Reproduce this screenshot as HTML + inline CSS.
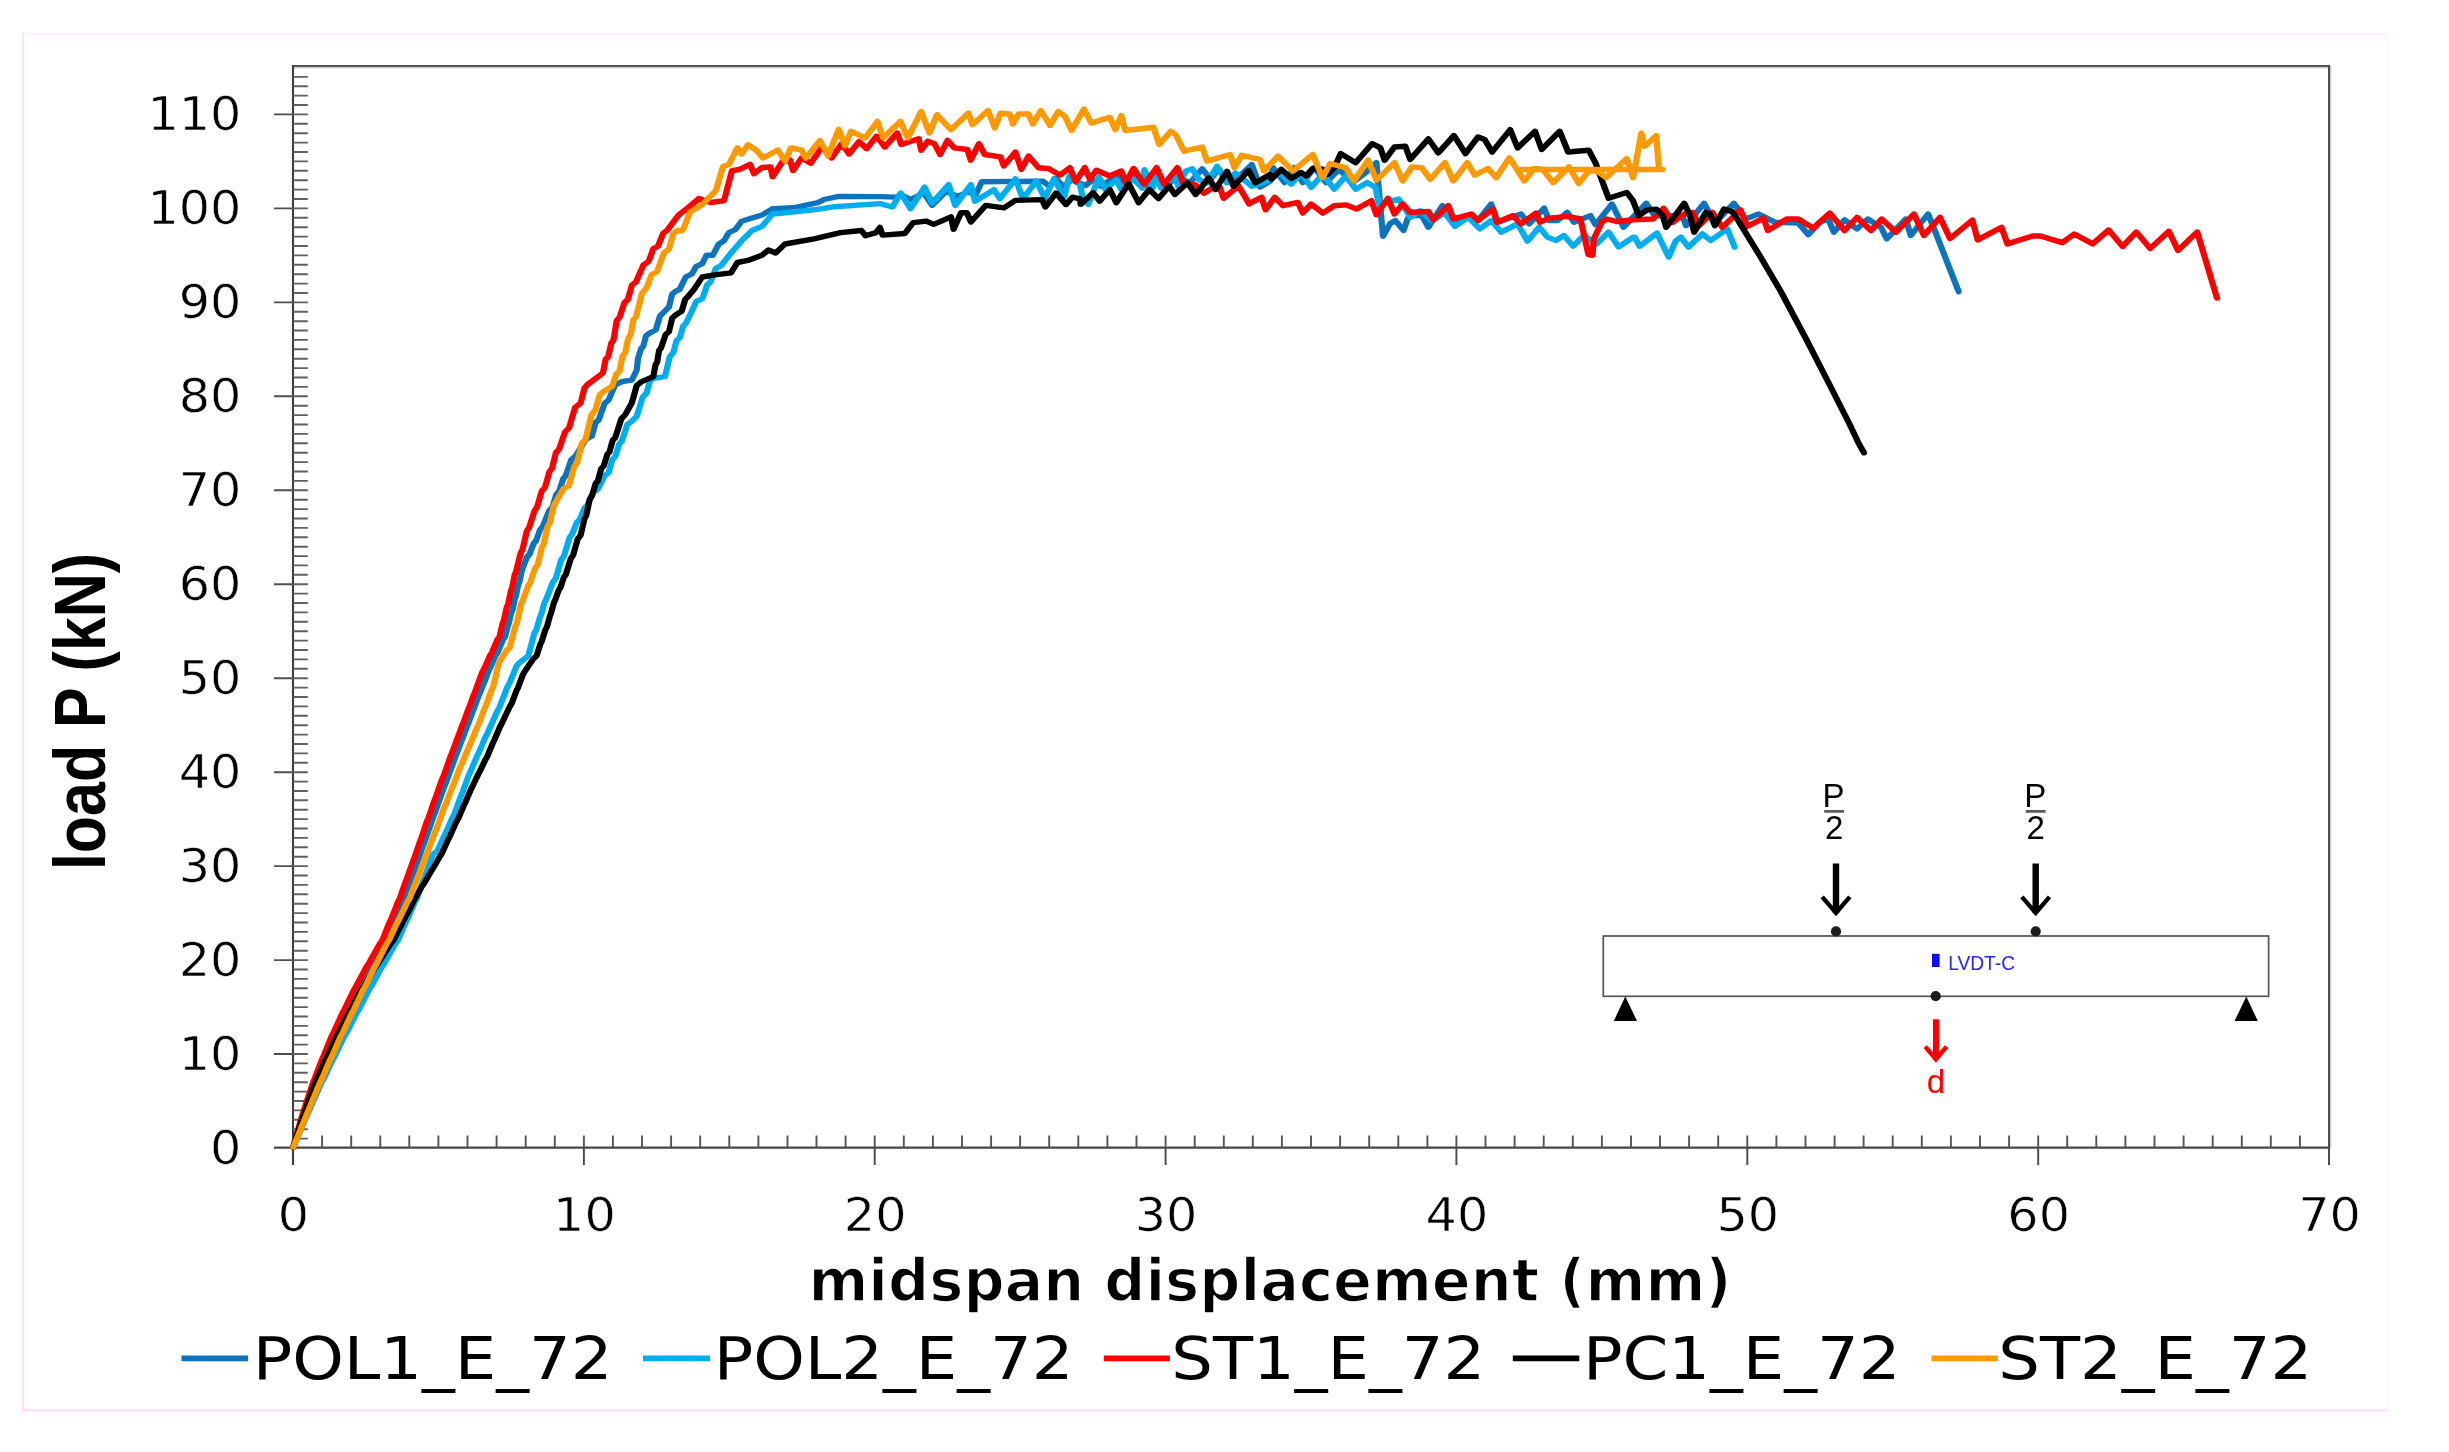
<!DOCTYPE html>
<html lang="en"><head><meta charset="utf-8"><title>load P vs midspan displacement</title>
<style>
html,body{margin:0;padding:0;background:#fff;}
body{width:2449px;height:1452px;overflow:hidden;}
svg{display:block;}
text{font-family:"DejaVu Sans","Liberation Sans",sans-serif;fill:#000;}
.b{font-family:"DejaVu Sans","Liberation Sans",sans-serif;font-weight:bold;}
.lb{font-family:"Liberation Sans","DejaVu Sans",sans-serif;font-weight:bold;}
.ar{font-family:"Liberation Sans","DejaVu Sans",sans-serif;}
.c{fill:none;stroke-linejoin:round;stroke-linecap:round;}
</style></head><body>
<svg width="2449" height="1452" viewBox="0 0 2449 1452">
<defs>
<clipPath id="plotclip"><rect x="286" y="60" width="2050" height="1089.8"/></clipPath>
<filter id="soft" filterUnits="userSpaceOnUse" x="0" y="0" width="2449" height="1452"><feGaussianBlur stdDeviation="0.5"/></filter>
</defs>
<rect x="0" y="0" width="2449" height="1452" fill="#fff"/>
<g id="figure" filter="url(#soft)">
<g id="pageborder">
<rect x="25.5" y="33" width="2363" height="2" fill="#FFEEFF"/>
<rect x="22" y="33" width="2.1" height="1378.2" fill="#FFDDFF"/>
<rect x="22" y="1409.3" width="2366.3" height="1.9" fill="#FFDDFF"/>
<rect x="2386.4" y="35" width="1.9" height="1375" fill="#FFF8FF"/>
</g>

<g id="axes" stroke="#454545" fill="none">
<path d="M293.0 67.8H2328.02M2330.72 66V1147.6" stroke="#d2d2d2" stroke-width="1.5"/>
<path d="M292.0 66H2330.02" stroke="#555" stroke-width="2"/>
<path d="M2329.02 65V1165.1" stroke="#4c4c4c" stroke-width="2"/>
<path d="M293.0 65V1165.1" stroke="#3c3c3c" stroke-width="2.1"/>
<path d="M274.0 1147.6H2329.02" stroke="#484848" stroke-width="2.3"/>
<path d="M274.0 1054.0H293.0M274.0 960.1H293.0M274.0 866.1H293.0M274.0 772.2H293.0M274.0 678.2H293.0M274.0 584.2H293.0M274.0 490.3H293.0M274.0 396.3H293.0M274.0 302.4H293.0M274.0 208.4H293.0M274.0 114.4H293.0" stroke-width="1.9" stroke="#505050"/>
<path d="M293.0 1138.6h14.8M293.0 1129.2h14.8M293.0 1119.8h14.8M293.0 1110.4h14.8M293.0 1101.0h14.8M293.0 1091.6h14.8M293.0 1082.2h14.8M293.0 1072.8h14.8M293.0 1063.4h14.8M293.0 1054.0h14.8M293.0 1044.6h14.8M293.0 1035.2h14.8M293.0 1025.9h14.8M293.0 1016.5h14.8M293.0 1007.1h14.8M293.0 997.7h14.8M293.0 988.3h14.8M293.0 978.9h14.8M293.0 969.5h14.8M293.0 960.1h14.8M293.0 950.7h14.8M293.0 941.3h14.8M293.0 931.9h14.8M293.0 922.5h14.8M293.0 913.1h14.8M293.0 903.7h14.8M293.0 894.3h14.8M293.0 884.9h14.8M293.0 875.5h14.8M293.0 866.1h14.8M293.0 856.7h14.8M293.0 847.3h14.8M293.0 837.9h14.8M293.0 828.5h14.8M293.0 819.1h14.8M293.0 809.7h14.8M293.0 800.3h14.8M293.0 791.0h14.8M293.0 781.6h14.8M293.0 772.2h14.8M293.0 762.8h14.8M293.0 753.4h14.8M293.0 744.0h14.8M293.0 734.6h14.8M293.0 725.2h14.8M293.0 715.8h14.8M293.0 706.4h14.8M293.0 697.0h14.8M293.0 687.6h14.8M293.0 678.2h14.8M293.0 668.8h14.8M293.0 659.4h14.8M293.0 650.0h14.8M293.0 640.6h14.8M293.0 631.2h14.8M293.0 621.8h14.8M293.0 612.4h14.8M293.0 603.0h14.8M293.0 593.6h14.8M293.0 584.2h14.8M293.0 574.8h14.8M293.0 565.4h14.8M293.0 556.1h14.8M293.0 546.7h14.8M293.0 537.3h14.8M293.0 527.9h14.8M293.0 518.5h14.8M293.0 509.1h14.8M293.0 499.7h14.8M293.0 490.3h14.8M293.0 480.9h14.8M293.0 471.5h14.8M293.0 462.1h14.8M293.0 452.7h14.8M293.0 443.3h14.8M293.0 433.9h14.8M293.0 424.5h14.8M293.0 415.1h14.8M293.0 405.7h14.8M293.0 396.3h14.8M293.0 386.9h14.8M293.0 377.5h14.8M293.0 368.1h14.8M293.0 358.7h14.8M293.0 349.3h14.8M293.0 339.9h14.8M293.0 330.5h14.8M293.0 321.2h14.8M293.0 311.8h14.8M293.0 302.4h14.8M293.0 293.0h14.8M293.0 283.6h14.8M293.0 274.2h14.8M293.0 264.8h14.8M293.0 255.4h14.8M293.0 246.0h14.8M293.0 236.6h14.8M293.0 227.2h14.8M293.0 217.8h14.8M293.0 208.4h14.8M293.0 199.0h14.8M293.0 189.6h14.8M293.0 180.2h14.8M293.0 170.8h14.8M293.0 161.4h14.8M293.0 152.0h14.8M293.0 142.6h14.8M293.0 133.2h14.8M293.0 123.8h14.8M293.0 114.4h14.8M293.0 105.0h14.8M293.0 95.6h14.8M293.0 86.3h14.8M293.0 76.9h14.8" stroke-width="1.9" stroke="#606060"/>
<path d="M583.9 1147.6v17.5M874.7 1147.6v17.5M1165.6 1147.6v17.5M1456.4 1147.6v17.5M1747.3 1147.6v17.5M2038.2 1147.6v17.5" stroke-width="1.9" stroke="#484848"/>
<path d="M322.1 1147.6v-12M351.2 1147.6v-12M380.3 1147.6v-12M409.3 1147.6v-12M438.4 1147.6v-12M467.5 1147.6v-12M496.6 1147.6v-12M525.7 1147.6v-12M554.8 1147.6v-12M583.9 1147.6v-12M612.9 1147.6v-12M642.0 1147.6v-12M671.1 1147.6v-12M700.2 1147.6v-12M729.3 1147.6v-12M758.4 1147.6v-12M787.5 1147.6v-12M816.5 1147.6v-12M845.6 1147.6v-12M874.7 1147.6v-12M903.8 1147.6v-12M932.9 1147.6v-12M962.0 1147.6v-12M991.1 1147.6v-12M1020.1 1147.6v-12M1049.2 1147.6v-12M1078.3 1147.6v-12M1107.4 1147.6v-12M1136.5 1147.6v-12M1165.6 1147.6v-12M1194.7 1147.6v-12M1223.8 1147.6v-12M1252.8 1147.6v-12M1281.9 1147.6v-12M1311.0 1147.6v-12M1340.1 1147.6v-12M1369.2 1147.6v-12M1398.3 1147.6v-12M1427.4 1147.6v-12M1456.4 1147.6v-12M1485.5 1147.6v-12M1514.6 1147.6v-12M1543.7 1147.6v-12M1572.8 1147.6v-12M1601.9 1147.6v-12M1631.0 1147.6v-12M1660.0 1147.6v-12M1689.1 1147.6v-12M1718.2 1147.6v-12M1747.3 1147.6v-12M1776.4 1147.6v-12M1805.5 1147.6v-12M1834.6 1147.6v-12M1863.6 1147.6v-12M1892.7 1147.6v-12M1921.8 1147.6v-12M1950.9 1147.6v-12M1980.0 1147.6v-12M2009.1 1147.6v-12M2038.2 1147.6v-12M2067.2 1147.6v-12M2096.3 1147.6v-12M2125.4 1147.6v-12M2154.5 1147.6v-12M2183.6 1147.6v-12M2212.7 1147.6v-12M2241.8 1147.6v-12M2270.8 1147.6v-12M2299.9 1147.6v-12" stroke-width="1.9" stroke="#555"/>
</g>
<g id="ticklabels" font-size="45.4" stroke="#fff" stroke-width="0.55">
<text transform="translate(241.4 1163.9) scale(1.085 1)" text-anchor="end">0</text>
<text transform="translate(241.4 1069.9) scale(1.085 1)" text-anchor="end">10</text>
<text transform="translate(241.4 976.0) scale(1.085 1)" text-anchor="end">20</text>
<text transform="translate(241.4 882.0) scale(1.085 1)" text-anchor="end">30</text>
<text transform="translate(241.4 788.1) scale(1.085 1)" text-anchor="end">40</text>
<text transform="translate(241.4 694.1) scale(1.085 1)" text-anchor="end">50</text>
<text transform="translate(241.4 600.1) scale(1.085 1)" text-anchor="end">60</text>
<text transform="translate(241.4 506.2) scale(1.085 1)" text-anchor="end">70</text>
<text transform="translate(241.4 412.2) scale(1.085 1)" text-anchor="end">80</text>
<text transform="translate(241.4 318.3) scale(1.085 1)" text-anchor="end">90</text>
<text transform="translate(241.4 224.3) scale(1.085 1)" text-anchor="end">100</text>
<text transform="translate(241.4 130.3) scale(1.085 1)" text-anchor="end">110</text>
<text transform="translate(293.5 1231.2) scale(1.085 1)" text-anchor="middle">0</text>
<text transform="translate(584.4 1231.2) scale(1.085 1)" text-anchor="middle">10</text>
<text transform="translate(875.2 1231.2) scale(1.085 1)" text-anchor="middle">20</text>
<text transform="translate(1166.1 1231.2) scale(1.085 1)" text-anchor="middle">30</text>
<text transform="translate(1456.9 1231.2) scale(1.085 1)" text-anchor="middle">40</text>
<text transform="translate(1747.8 1231.2) scale(1.085 1)" text-anchor="middle">50</text>
<text transform="translate(2038.7 1231.2) scale(1.085 1)" text-anchor="middle">60</text>
<text transform="translate(2329.5 1231.2) scale(1.085 1)" text-anchor="middle">70</text>
</g>
<text class="b" font-size="58.6" transform="translate(1270 1300.6) scale(0.981 1)" text-anchor="middle" stroke="#fff" stroke-width="1.7" stroke-linejoin="round">midspan displacement (mm)</text>
<text class="lb" font-size="73" transform="translate(104.8 711.5) rotate(-90) scale(0.835 1)" text-anchor="middle">load P (kN)</text>
<g clip-path="url(#plotclip)">
<g id="curves" transform="scale(1.15 1)">
<path class="c" d="M255.0 1147.3L261.4 1124.3L268.3 1101.2L271.3 1091.8L272.2 1089.7L275.2 1080.3L276.0 1078.2L279.3 1068.8L280.2 1066.7L283.5 1057.3L284.3 1055.2L287.9 1045.7L288.9 1043.7L292.4 1034.2L293.4 1032.1L297.1 1022.7L298.2 1020.6L302.0 1011.2L303.0 1009.1L307.1 999.7L308.2 997.6L312.3 988.2L313.4 986.1L317.7 976.6L318.9 974.5L323.2 965.1L324.3 963.0L328.9 953.6L330.2 951.5L334.8 942.1L336.0 940.0L339.9 928.7L341.0 926.2L345.0 914.9L346.1 912.4L350.0 901.1L351.1 898.6L354.6 887.5L355.5 885.1L358.9 874.0L359.8 871.5L363.3 860.4L364.2 858.0L367.8 845.7L368.8 843.0L372.5 830.7L373.5 828.0L377.1 815.7L378.2 813.0L381.8 800.7L382.8 798.0L386.6 785.7L387.7 783.0L391.5 770.7L392.5 768.0L396.3 755.7L397.4 753.0L401.3 740.7L402.4 738.0L406.3 725.7L407.4 723.0L411.3 710.7L412.3 708.0L416.2 695.7L417.4 693.0L420.8 682.8L421.8 680.5L425.0 670.2L426.2 668.0L431.0 655.3L432.7 652.5L437.3 639.8L439.2 637.0L441.6 625.9L442.4 623.5L444.6 612.4L445.7 610.0L447.7 598.6L448.6 596.1L450.6 584.7L451.6 582.2L453.7 570.8L454.5 568.3L458.3 557.0L460.3 554.5L464.2 543.2L466.1 540.8L469.7 529.5L471.8 527.0L477.5 510.8L480.4 507.2L483.8 494.3L486.2 491.5L489.8 478.6L491.9 475.8L496.8 459.6L500.5 456.0L509.3 439.6L514.8 436.0L517.9 422.6L520.7 419.6L525.8 403.4L529.3 399.8L535.0 384.9L540.8 381.6L549.4 380.0L553.7 370.0L554.8 358.6L557.5 348.4L559.4 346.2L561.7 336.0L564.0 333.8L570.3 329.7L573.9 316.0L576.5 313.0L581.7 307.0L584.5 294.2L587.4 291.4L591.0 289.4L596.3 277.0L601.7 273.9L605.2 266.7L610.7 263.6L614.3 255.3L619.7 255.3L625.0 244.0L629.6 240.8L633.9 232.6L639.5 229.5L644.9 221.2L653.9 218.0L662.6 215.0L671.8 208.8L689.6 207.8L711.3 202.6L716.5 199.5L729.3 196.4L765.2 196.6L779.6 197.1L783.2 194.6L791.8 199.6L803.3 193.0L810.5 205.4L822.7 191.3L832.8 196.3L842.9 191.3L847.8 196.3L853.7 181.8L906.1 181.2L906.9 181.3L912.6 186.3L918.3 178.3L924.1 186.3L932.7 179.7L943.7 185.6L950.5 179.7L957.5 186.3L964.3 181.0L972.4 177.0L975.3 185.6L981.6 181.0L987.4 177.0L993.1 187.6L1000.0 182.3L1002.3 177.9L1013.0 187.0L1023.8 176.3L1034.6 182.9L1045.4 168.8L1052.6 179.6L1059.8 168.8L1067.0 181.2L1077.7 176.3L1088.5 164.7L1095.7 187.0L1104.3 181.2L1107.0 167.7L1117.0 182.6L1125.7 167.7L1132.9 182.6L1143.0 167.7L1153.0 182.6L1164.5 169.3L1176.0 182.6L1187.5 172.6L1196.9 162.7L1202.6 236.3L1208.9 223.4L1213.4 220.6L1220.5 230.5L1224.2 218.3L1227.7 215.6L1236.3 215.6L1242.1 227.2L1254.3 205.7L1263.7 220.6L1272.3 217.3L1285.2 220.6L1296.7 204.0L1302.5 222.2L1322.6 214.0L1329.8 223.9L1342.7 208.2L1347.0 220.6L1354.3 220.6L1362.9 212.3L1368.6 222.2L1383.0 215.6L1387.3 224.7L1401.7 204.0L1411.7 227.2L1431.6 203.3L1438.7 215.7L1463.1 215.7L1466.1 225.6L1481.8 203.3L1487.6 215.7L1491.9 222.3L1507.7 203.3L1517.8 219.0L1529.3 214.0L1543.7 222.3L1563.7 223.1L1572.4 234.7L1582.4 222.3L1589.7 219.0L1594.7 232.2L1604.0 219.8L1614.8 228.9L1624.2 219.0L1635.7 227.3L1640.7 238.8L1657.2 219.0L1661.5 235.5L1676.6 214.0L1683.0 232.2L1703.2 291.7" stroke="#0F73BC" stroke-width="5.4"/>
<path class="c" d="M255.0 1147.3L263.6 1124.3L272.4 1101.2L279.7 1082.3L281.8 1078.2L289.5 1059.3L291.5 1055.2L299.4 1036.3L301.7 1032.1L310.0 1013.2L312.2 1009.1L320.7 990.2L323.0 986.1L332.0 967.2L334.3 963.0L343.6 944.1L346.1 940.0L352.5 923.0L354.3 919.3L360.6 902.3L362.4 898.6L368.1 880.3L369.7 876.3L375.2 858.0L376.8 854.0L380.3 851.0L386.1 836.2L387.6 833.0L393.2 818.2L394.8 815.0L400.4 797.2L401.9 793.2L407.6 775.4L409.1 771.5L414.8 756.2L416.3 752.9L421.9 737.6L423.5 734.3L432.0 712.2L434.3 707.4L441.1 687.1L443.3 682.6L448.7 667.3L450.4 664.0L459.4 655.8L464.5 633.8L466.6 629.0L469.6 617.1L470.6 614.5L473.4 602.6L474.7 600.0L480.8 582.2L483.3 578.3L488.0 560.0L490.4 556.0L495.3 537.6L497.7 533.6L501.7 522.1L504.2 519.5L508.3 508.0L510.6 505.5L516.1 492.0L520.0 489.0L525.9 475.5L529.3 472.5L532.5 459.6L535.0 456.8L538.6 443.8L540.8 441.0L545.4 424.8L549.4 421.2L553.7 416.3L558.8 397.2L562.3 393.0L565.2 380.9L568.1 378.3L578.2 376.6L582.4 356.8L585.6 352.4L588.3 340.6L591.0 337.9L594.1 326.1L596.3 323.5L600.0 315.2L605.3 301.7L610.7 298.7L614.9 285.0L617.9 282.0L622.4 268.6L627.0 265.6L635.7 253.0L644.9 240.8L653.9 230.5L662.6 226.4L671.8 214.0L680.9 213.0L707.8 209.8L725.7 206.7L765.2 203.6L776.0 207.0L783.2 193.0L791.8 208.7L804.0 187.2L810.5 202.9L824.9 184.7L830.6 205.4L844.3 184.7L847.8 201.2L864.3 189.7L869.4 198.8L883.0 178.9L889.6 198.8L901.1 181.0L908.6 198.2L916.5 178.9L925.5 196.7L929.8 176.4L939.1 184.7L941.2 196.1L946.3 204.4L955.6 177.1L961.3 189.5L970.7 179.6L975.0 189.5L985.0 178.8L993.7 187.9L995.1 169.7L1002.3 187.9L1005.2 176.3L1009.5 187.9L1021.7 176.3L1024.6 186.2L1031.0 171.3L1036.8 168.8L1042.5 179.6L1049.7 182.9L1058.3 166.4L1063.4 176.3L1067.0 182.9L1074.2 173.0L1081.4 179.6L1088.5 186.2L1097.9 182.9L1104.3 179.6L1112.8 172.6L1122.8 184.2L1131.5 172.6L1140.1 187.5L1150.1 174.3L1160.2 189.2L1170.3 176.0L1178.9 189.2L1189.0 182.6L1196.1 187.5L1199.0 204.0L1216.3 199.1L1222.0 209.0L1226.3 217.3L1235.0 210.7L1245.0 220.6L1256.5 213.1L1265.1 226.4L1276.6 217.3L1286.7 228.8L1296.7 220.6L1305.4 232.1L1319.7 223.9L1328.3 241.2L1338.4 227.2L1345.6 237.1L1352.8 240.4L1360.0 235.5L1367.9 246.2L1377.2 235.5L1388.7 243.7L1398.8 232.1L1407.4 247.0L1420.3 237.1L1421.5 237.2L1425.8 246.3L1440.9 233.1L1451.0 257.0L1457.2 240.8L1461.7 237.2L1468.2 247.1L1480.4 233.9L1487.6 240.5L1502.0 228.9L1508.4 247.1" stroke="#00AEEF" stroke-width="5.4"/>
<path class="c" d="M255.0 1147.3L260.5 1124.3L266.8 1101.2L272.3 1082.3L273.8 1078.2L280.0 1059.3L281.7 1055.2L288.3 1036.3L290.3 1032.1L297.7 1013.2L299.7 1009.1L307.6 990.2L309.8 986.1L318.5 967.2L320.9 963.0L330.1 944.1L332.6 940.0L338.5 923.0L340.1 919.3L345.9 902.3L347.6 898.6L352.6 882.0L353.9 878.3L359.0 861.7L360.3 858.0L365.2 841.6L366.4 838.0L371.2 821.6L372.6 818.0L377.4 801.6L378.7 798.0L384.3 779.5L385.9 775.5L391.6 757.0L393.0 753.0L396.9 740.7L397.9 738.0L401.8 725.7L402.9 723.0L406.7 710.7L407.8 708.0L411.6 695.7L412.7 693.0L419.2 672.5L421.4 668.0L426.2 655.3L427.8 652.5L432.4 639.8L434.3 637.0L437.0 623.5L438.1 620.5L440.7 607.0L441.9 604.0L444.3 590.8L445.3 587.9L447.6 574.6L448.7 571.7L452.7 553.4L454.4 549.4L458.1 531.0L460.3 527.0L464.8 510.8L467.0 507.2L471.1 491.0L473.9 487.4L477.7 471.8L480.0 468.4L483.4 452.7L486.1 449.3L491.4 431.8L494.8 427.9L500.1 407.5L504.9 403.0L508.2 388.2L510.6 384.9L524.3 373.0L526.6 359.5L528.9 356.5L531.6 343.0L533.5 340.0L536.2 321.1L538.9 317.0L543.0 302.6L546.0 299.5L549.5 285.1L553.0 282.0L559.4 265.2L564.0 261.5L568.1 248.8L572.2 246.0L576.7 233.3L580.0 230.5L590.1 215.0L598.3 207.8L607.8 198.5L617.9 202.6L629.6 200.5L636.5 170.6L643.0 169.5L652.2 164.4L655.7 173.7L662.6 167.5L670.0 166.9L671.8 176.8L680.0 162.3L687.0 160.0L689.6 170.6L697.0 158.0L705.0 163.3L714.8 146.8L723.0 158.0L732.0 143.7L738.3 154.0L747.0 141.6L753.6 148.7L762.2 136.3L769.4 147.0L780.2 133.0L783.7 144.5L798.9 138.8L801.0 150.3L806.8 141.2L812.5 143.7L817.6 154.5L824.0 140.4L829.7 147.9L841.2 149.5L844.1 160.2L851.3 143.7L856.3 154.5L870.0 156.9L872.9 166.0L883.0 152.0L888.0 169.3L894.4 156.1L903.0 167.7L911.7 168.5L921.7 175.1L930.3 167.7L935.4 181.7L943.3 167.7L947.7 179.3L953.4 170.2L964.9 176.0L975.0 171.0L979.2 182.6L985.7 168.5L995.0 184.2L1005.8 167.7L1012.3 184.2L1023.8 167.7L1028.8 182.6L1039.6 185.0L1046.8 193.3L1059.7 184.2L1064.0 198.3L1077.0 185.9L1086.3 204.0L1086.9 203.2L1097.0 197.4L1100.5 209.8L1108.4 197.4L1115.7 205.7L1128.6 202.4L1132.9 213.1L1140.1 204.0L1150.1 213.1L1160.2 205.7L1170.3 204.9L1179.6 209.0L1192.5 200.7L1196.9 214.8L1206.9 198.3L1212.6 214.0L1219.8 204.0L1226.3 212.3L1242.1 211.5L1246.4 219.8L1259.4 205.7L1263.7 218.9L1279.5 214.0L1285.2 220.6L1298.2 209.0L1301.7 222.2L1315.4 215.6L1322.6 223.9L1335.6 213.1L1339.1 222.2L1347.0 218.1L1362.9 216.4L1374.3 218.9L1381.2 254.5L1384.7 255.3L1386.0 239.1L1387.3 235.5L1393.0 222.0L1397.0 219.0L1405.7 221.5L1420.1 219.8L1437.3 219.0L1446.6 208.3L1454.5 222.3L1464.6 214.0L1471.8 212.4L1477.6 225.6L1489.0 212.4L1497.7 227.3L1513.5 209.9L1519.2 226.4L1533.6 218.2L1537.2 230.6L1553.7 219.0L1563.7 219.0L1576.7 228.1L1591.1 213.2L1604.0 230.6L1614.8 217.4L1627.0 230.6L1636.3 219.0L1648.6 232.2L1664.3 214.0L1673.0 235.5L1687.0 217.4L1695.6 238.6L1715.1 220.1L1719.7 239.9L1740.4 227.4L1745.6 243.9L1767.5 236.0L1774.3 236.0L1793.3 242.6L1803.7 234.0L1819.7 243.9L1833.6 230.0L1845.7 246.5L1857.7 232.0L1869.7 248.5L1885.9 231.3L1893.9 250.5L1910.6 232.0L1927.8 298.1" stroke="#FF0000" stroke-width="5.4"/>
<path class="c" d="M255.0 1147.3L261.2 1124.3L268.3 1101.2L274.4 1082.3L276.2 1078.2L283.2 1059.3L285.0 1055.2L292.6 1036.3L294.7 1032.1L303.1 1013.2L305.3 1009.1L314.2 990.2L316.7 986.1L326.4 967.2L329.0 963.0L339.4 944.1L342.3 940.0L347.1 928.7L348.4 926.2L353.3 914.9L354.7 912.4L359.6 901.1L360.9 898.6L366.9 886.4L368.6 883.7L374.7 871.5L376.3 868.9L382.3 856.7L384.0 854.0L389.7 839.6L391.1 836.5L396.7 822.1L398.3 819.0L403.3 805.5L404.6 802.5L409.6 789.0L411.0 786.0L415.9 774.1L417.2 771.5L422.1 759.6L423.5 757.0L428.4 743.5L429.7 740.5L434.7 727.0L436.1 724.0L443.1 707.0L445.0 703.3L449.1 690.6L450.4 687.8L454.5 675.1L455.8 672.3L463.7 658.8L466.6 655.8L469.9 644.0L471.1 641.3L474.3 629.5L475.6 626.9L478.2 615.9L479.1 613.5L481.7 602.4L482.8 600.0L486.0 589.8L487.4 587.5L490.3 577.2L491.9 575.0L496.3 558.7L498.4 555.1L502.4 538.9L504.9 535.3L508.2 519.0L509.8 515.5L512.8 499.2L514.8 495.6L518.0 483.4L519.9 480.8L522.8 468.6L525.0 465.9L528.1 454.4L530.0 451.9L532.8 440.3L535.0 437.8L540.3 418.8L543.7 414.6L549.4 403.0L553.7 385.5L558.0 381.6L568.1 376.6L570.0 364.9L571.4 362.3L573.1 350.6L574.8 348.0L578.8 334.6L581.7 331.7L584.5 318.2L587.4 315.2L592.8 311.0L595.9 299.2L598.2 296.6L603.5 289.4L610.7 277.0L621.5 274.9L635.7 272.8L641.2 262.5L650.3 260.4L662.6 255.3L668.2 250.0L674.5 253.0L682.6 244.0L707.8 238.8L731.0 232.6L749.0 230.5L752.6 235.7L761.7 232.6L765.2 227.4L767.4 235.1L786.8 233.5L794.0 222.7L805.5 221.1L811.9 224.4L827.0 216.9L829.2 229.3L835.7 212.8L840.7 212.8L844.3 221.9L857.2 205.4L873.0 207.9L883.0 200.4L906.1 199.6L909.0 207.0L918.3 193.0L927.0 204.5L932.7 197.1L939.1 198.8L939.7 204.4L950.5 192.8L956.3 201.1L965.0 189.5L970.7 202.7L981.5 183.7L990.1 202.7L999.4 189.5L1007.3 198.6L1016.7 186.2L1021.7 194.5L1032.5 182.9L1039.7 194.5L1051.1 177.9L1057.0 189.5L1067.0 171.3L1072.7 186.2L1085.7 170.5L1091.4 182.9L1104.3 174.6L1105.6 179.3L1114.2 169.3L1122.8 178.4L1131.5 172.6L1135.7 176.0L1141.5 168.5L1150.1 169.3L1154.4 174.3L1160.2 167.7L1165.9 153.6L1178.9 162.7L1193.2 143.7L1200.4 147.9L1204.0 160.2L1212.6 147.0L1222.0 146.2L1226.3 159.4L1242.1 138.8L1250.7 152.8L1264.3 135.5L1274.4 153.6L1285.2 137.1L1291.0 139.6L1297.5 152.0L1313.2 129.7L1319.7 147.9L1334.8 131.3L1340.6 149.5L1356.3 131.3L1363.6 152.0L1381.6 150.3L1387.3 162.7L1398.8 198.3L1414.6 192.5L1420.1 200.8L1425.0 215.7L1432.3 209.9L1440.2 209.1L1445.9 215.7L1448.8 227.3L1464.6 203.3L1469.7 215.7L1473.2 232.2L1483.3 212.4L1486.9 214.0L1491.2 225.6L1499.1 209.1L1506.3 211.6L1510.6 219.0L1530.4 256.0L1548.3 291.0L1571.0 340.0L1591.3 385.5L1608.7 425.0L1616.5 444.0L1620.9 452.8" stroke="#000000" stroke-width="5.4"/>
<path class="c" d="M255.0 1147.3L263.1 1124.3L271.5 1101.2L278.3 1082.3L280.2 1078.2L287.2 1059.3L289.1 1055.2L296.3 1036.3L298.3 1032.1L305.9 1013.2L307.9 1009.1L315.6 990.2L317.7 986.1L325.7 967.2L327.8 963.0L336.0 944.1L338.3 940.0L345.3 923.0L347.1 919.3L354.2 902.3L356.1 898.6L362.1 880.3L363.7 876.3L369.7 858.0L371.3 854.0L377.7 833.7L379.5 829.2L385.8 809.0L387.6 804.5L393.2 787.5L394.7 783.8L400.3 766.7L401.9 763.0L407.7 747.0L409.1 743.5L414.8 727.5L416.3 724.0L421.2 708.7L422.6 705.4L427.4 690.1L428.9 686.8L433.0 666.5L434.3 662.0L440.8 650.1L443.3 647.5L447.9 627.2L449.6 622.7L453.1 604.1L454.8 600.0L459.3 585.6L461.1 582.5L465.3 568.1L467.5 565.0L471.1 547.8L472.8 544.1L476.0 526.9L478.0 523.1L481.5 506.0L483.3 502.2L490.0 488.7L494.8 485.7L499.3 466.7L501.9 462.5L505.9 443.6L509.1 439.4L514.3 415.0L517.8 409.7L521.5 394.8L525.0 391.5L532.2 386.5L536.1 373.8L538.9 371.0L541.2 356.2L543.6 353.0L546.3 338.2L548.3 335.0L550.7 320.2L553.0 317.0L558.3 293.2L562.2 288.0L566.7 274.7L571.2 271.8L577.3 253.1L581.7 249.0L585.4 233.8L589.1 230.5L593.7 230.5L600.0 212.0L610.4 204.7L622.3 191.0L628.7 166.4L633.9 164.4L641.2 147.9L644.9 154.0L650.3 144.8L657.4 150.0L663.5 158.0L676.3 150.0L682.6 161.3L687.8 147.9L697.0 150.0L700.5 158.2L713.0 140.6L720.0 156.0L729.3 129.3L734.8 145.8L740.0 131.3L752.2 137.9L763.0 121.4L767.9 137.9L783.0 121.4L789.5 137.9L801.0 111.5L808.2 133.0L814.7 114.8L826.9 129.7L842.0 113.1L845.6 124.7L859.2 110.7L865.0 128.0L870.0 113.1L877.9 114.0L880.8 123.9L885.8 114.0L894.4 114.0L898.0 123.9L905.2 110.7L913.1 125.5L920.3 111.5L926.1 116.4L931.8 130.5L942.6 109.0L949.0 123.1L964.9 117.3L969.9 129.7L975.0 115.6L978.5 130.5L1003.0 127.2L1008.0 144.5L1018.0 131.3L1022.3 134.6L1029.6 151.2L1045.3 147.0L1049.7 161.1L1069.7 154.5L1073.4 167.7L1079.8 155.3L1095.5 159.4L1099.1 171.0L1111.3 156.1L1124.3 171.0L1141.5 154.5L1150.1 177.6L1156.6 163.6L1170.3 167.7L1177.4 180.9L1189.7 160.2L1196.9 180.1L1212.6 162.7L1219.8 180.9L1227.7 166.9L1236.3 167.7L1243.6 179.3L1256.5 162.7L1263.7 180.9L1275.9 162.7L1282.3 175.1L1293.8 168.5L1301.0 177.6L1312.5 157.8L1325.5 180.9L1334.1 168.5L1341.3 169.3L1350.6 182.6L1364.3 166.9L1372.9 183.4L1381.6 171.0L1388.7 171.0L1396.6 177.6L1414.6 158.6L1420.1 177.7L1427.2 133.1L1430.1 146.3L1440.2 135.5L1442.6 169.4L1445.7 169.5L1323.0 169.5" stroke="#FF9900" stroke-width="5.4"/>
</g>
</g>
<g id="beam">
<rect x="1603.3" y="936" width="665.3" height="60.3" fill="#fff" stroke="#555" stroke-width="1.7"/>
<circle cx="1836" cy="931.4" r="5.1" fill="#1c1c1c"/>
<circle cx="2035.7" cy="931.4" r="5.1" fill="#1c1c1c"/>
<circle cx="1935.7" cy="996.2" r="5.1" fill="#1c1c1c"/>
<path d="M1625.3 996.5L1613.8 1021H1637z" fill="#000"/>
<path d="M2246.3 996.5L2234.6 1021H2257.8z" fill="#000"/>
<g stroke="#000" fill="none" stroke-linecap="butt" stroke-linejoin="miter">
<path d="M1836 863.4V913M2035.7 863.4V913" stroke-width="6.4"/>
<path d="M1822.2 896.8L1836 913L1849.8 896.8M2021.9 896.8L2035.7 913L2049.5 896.8" stroke-width="4.3"/>
</g>
<g stroke="#FF0000" fill="none" stroke-linecap="butt" stroke-linejoin="miter">
<path d="M1936 1019.3V1058" stroke-width="6.1"/>
<path d="M1925.2 1046.6L1935.9 1059.3L1946.6 1046.6" stroke-width="4.5"/>
</g>
<rect x="1932" y="953.8" width="7.6" height="13.2" fill="#0808FF"/>
<text class="ar" font-size="19.4" transform="translate(1948.2 970.3) scale(0.99 1)" style="fill:#2626FF">LVDT-C</text>
<text class="ar" font-size="33" x="1833.6" y="807.4" text-anchor="middle">P</text>
<text class="ar" font-size="33" x="1834.2" y="839.3" text-anchor="middle">2</text>
<text class="ar" font-size="33" x="2035.2" y="807.4" text-anchor="middle">P</text>
<text class="ar" font-size="33" x="2035.8" y="839.3" text-anchor="middle">2</text>
<path d="M1824.2 811.4H1844M2025.8 811.4H2045.6" stroke="#5c5c5c" stroke-width="2.6"/>
<text class="ar" font-size="33" x="1935.9" y="1092.6" text-anchor="middle" style="fill:#FF0000">d</text>
</g>
<g id="legend" font-size="58.4">
<line x1="181.5" y1="1358.3" x2="248.1" y2="1358.3" stroke="#0C72BD" stroke-width="5.7"/>
<text transform="translate(252.7 1378.9) scale(1.123 1)">POL1_E_72</text>
<line x1="643.0" y1="1358.3" x2="710.1" y2="1358.3" stroke="#00AEEF" stroke-width="5.7"/>
<text transform="translate(713.7 1378.9) scale(1.123 1)">POL2_E_72</text>
<line x1="1103.8" y1="1358.3" x2="1169.9" y2="1358.3" stroke="#FF0000" stroke-width="5.7"/>
<text transform="translate(1171.3 1378.9) scale(1.123 1)">ST1_E_72</text>
<line x1="1512.8" y1="1358.3" x2="1579.3" y2="1358.3" stroke="#000000" stroke-width="5.7"/>
<text transform="translate(1583 1378.9) scale(1.123 1)">PC1_E_72</text>
<line x1="1931.5" y1="1358.3" x2="1997.9" y2="1358.3" stroke="#FF9900" stroke-width="5.7"/>
<text transform="translate(1998.3 1378.9) scale(1.123 1)">ST2_E_72</text>
</g>
</g>
</svg>
</body></html>
